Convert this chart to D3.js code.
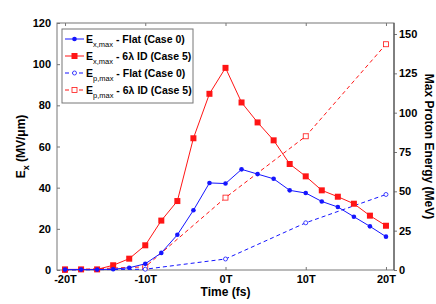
<!DOCTYPE html>
<html lang="en">
<head>
  <meta charset="UTF-8">
  <title>Ex and Proton Energy vs Time</title>
  <script src="https://d3js.org/d3.v7.min.js"></script>
  <style>
    body { margin: 0; background: #fff; }
    svg { display: block; font-family: "Liberation Sans", Arial, sans-serif; font-weight: bold; }
  </style>
</head>
<body>
  <svg id="chart" width="436" height="304"></svg>
  <script>
    // Time in units of T (laser period)
    const timeFine = [-20, -18, -16, -14, -12, -10, -8, -6, -4, -2, 0, 2, 4, 6, 8, 10, 12, 14, 16, 18, 20];
    const timeCoarse = [-20, -10, 0, 10, 20];

    // Peak field Ex (MV/um), left axis
    const exFlat = [0.2, 0.2, 0.2, 0.4, 1.1, 3, 8.3, 17.1, 29, 42.3, 42, 48.9, 46.6, 44.3, 38.7, 37.4, 33.3, 30.6, 25.9, 21.2, 16.2];
    const exId = [0.3, 0.3, 0.3, 2.3, 5.5, 12, 24, 33.5, 64, 85.6, 98.2, 81.4, 71.7, 63, 51.5, 45.5, 38.7, 35.6, 32.2, 26.4, 21.5];

    // Max proton energy (MeV), right axis
    const epFlat = [0, 0.5, 7, 30, 48];
    const epId = [0, 2, 46, 85, 143.5];

    const xTicks = [-20, -10, 0, 10, 20];
    const yLeftTicks = [0, 20, 40, 60, 80, 100, 120];
    const yRightTicks = [0, 25, 50, 75, 100, 125, 150];

    const legendItems = [
      { sub: "x,max", text: " - Flat (Case 0)", color: "#1515ff", dash: null, mark: "dot" },
      { sub: "x,max", text: " - 6\u03bb ID (Case 5)", color: "#ff1515", dash: null, mark: "square" },
      { sub: "p,max", text: " - Flat (Case 0)", color: "#1515ff", dash: "4,3", mark: "ocircle" },
      { sub: "p,max", text: " - 6\u03bb ID (Case 5)", color: "#ff1515", dash: "4,3", mark: "osquare" }
    ];

    const pLeft = 57, pRight = 394, pTop = 23, pBottom = 270;
    const svg = d3.select("#chart");

    const x = d3.scaleLinear().domain([-21, 21]).range([pLeft, pRight]);
    const yL = d3.scaleLinear().domain([0, 120]).range([pBottom, pTop]);
    const yR = d3.scaleLinear().domain([0, 157]).range([pBottom, pTop]);

    const axisColor = "#777";

    // frame
    svg.append("rect")
      .attr("x", pLeft).attr("y", pTop)
      .attr("width", pRight - pLeft).attr("height", pBottom - pTop)
      .attr("fill", "none").attr("stroke", axisColor).attr("stroke-width", 1);

    // bottom axis
    const gx = svg.append("g")
      .attr("transform", `translate(0,${pBottom})`)
      .call(d3.axisBottom(x).tickValues(xTicks).tickSize(-3).tickPadding(5).tickFormat(d => d + "T"));
    // top ticks
    const gxt = svg.append("g")
      .attr("transform", `translate(0,${pTop})`)
      .call(d3.axisTop(x).tickValues(xTicks).tickSize(-3).tickFormat(""));
    // left axis
    const gyl = svg.append("g")
      .attr("transform", `translate(${pLeft},0)`)
      .call(d3.axisLeft(yL).tickValues(yLeftTicks).tickSize(-3).tickPadding(6));
    // right axis
    const gyr = svg.append("g")
      .attr("transform", `translate(${pRight},0)`)
      .call(d3.axisRight(yR).tickValues(yRightTicks).tickSize(3).tickPadding(2));

    [gx, gxt, gyl, gyr].forEach(g => {
      g.select(".domain").remove();
      g.selectAll("line").attr("stroke", axisColor);
      g.selectAll("text")
        .attr("fill", "#000")
        .style("font-size", "11px")
        .style("font-weight", "bold")
        .style("font-family", "'Liberation Sans', Arial, sans-serif");
    });
    gyr.append("line").attr("x1", 0).attr("x2", 0).attr("y1", pTop).attr("y2", pBottom).attr("stroke", "#444");

    // axis labels
    svg.append("text")
      .attr("x", (pLeft + pRight) / 2).attr("y", 296)
      .attr("text-anchor", "middle").style("font-size", "12px")
      .text("Time (fs)");

    const ylab = svg.append("text")
      .attr("transform", `translate(25,${(pTop + pBottom) / 2}) rotate(-90)`)
      .attr("text-anchor", "middle").style("font-size", "12px");
    ylab.append("tspan").text("E");
    ylab.append("tspan").attr("dy", 4).style("font-size", "9px").text("x");
    ylab.append("tspan").attr("dy", -4).text(" (MV/\u03bcm)");

    svg.append("text")
      .attr("transform", `translate(425,${(pTop + pBottom) / 2}) rotate(90)`)
      .attr("text-anchor", "middle").style("font-size", "12px")
      .text("Max Proton Energy (MeV)");

    // series
    const series = [
      { t: timeFine, v: exFlat, y: yL, color: "#1515ff", dash: null, mark: "dot" },
      { t: timeFine, v: exId, y: yL, color: "#ff1515", dash: null, mark: "square" },
      { t: timeCoarse, v: epFlat, y: yR, color: "#1515ff", dash: "4,3", mark: "ocircle" },
      { t: timeCoarse, v: epId, y: yR, color: "#ff1515", dash: "4,3", mark: "osquare" }
    ];

    function drawMark(g, kind, cx, cy, color) {
      if (kind === "dot") {
        g.append("circle").attr("cx", cx).attr("cy", cy).attr("r", 2.3).attr("fill", color);
      } else if (kind === "square") {
        g.append("rect").attr("x", cx - 3).attr("y", cy - 3).attr("width", 6).attr("height", 6).attr("fill", color);
      } else if (kind === "ocircle") {
        g.append("circle").attr("cx", cx).attr("cy", cy).attr("r", 2).attr("fill", "#fff").attr("stroke", color).attr("stroke-width", 0.8);
      } else {
        g.append("rect").attr("x", cx - 2.5).attr("y", cy - 2.5).attr("width", 5).attr("height", 5).attr("fill", "#fff").attr("stroke", color).attr("stroke-width", 0.8);
      }
    }

    // draw dashed series first, solid on top
    [series[3], series[2], series[1], series[0]].forEach(s => {
      const pts = s.t.map((t, i) => [x(t), s.y(s.v[i])]);
      svg.append("path")
        .attr("d", d3.line()(pts))
        .attr("fill", "none")
        .attr("stroke", s.color)
        .attr("stroke-width", 1)
        .attr("stroke-dasharray", s.dash);
      const g = svg.append("g");
      pts.forEach(p => drawMark(g, s.mark, p[0], p[1], s.color));
    });

    // legend
    const lg = svg.append("g");
    lg.append("rect")
      .attr("x", 62).attr("y", 29).attr("width", 131).attr("height", 74)
      .attr("fill", "#fff").attr("stroke", "#777").attr("stroke-width", 1);
    legendItems.forEach((d, i) => {
      const yy = 39 + i * 17;
      lg.append("line")
        .attr("x1", 65).attr("x2", 84).attr("y1", yy).attr("y2", yy)
        .attr("stroke", d.color).attr("stroke-width", 1)
        .attr("stroke-dasharray", d.dash);
      drawMark(lg, d.mark, 74.5, yy, d.color);
      const t = lg.append("text").attr("x", 86).attr("y", yy + 4).style("font-size", "10.5px");
      t.append("tspan").text("E");
      t.append("tspan").attr("dy", 4).style("font-size", "7.5px").style("font-weight", "normal").text(d.sub);
      t.append("tspan").attr("dy", -4).text(d.text);
    });
  </script>
</body>
</html>
